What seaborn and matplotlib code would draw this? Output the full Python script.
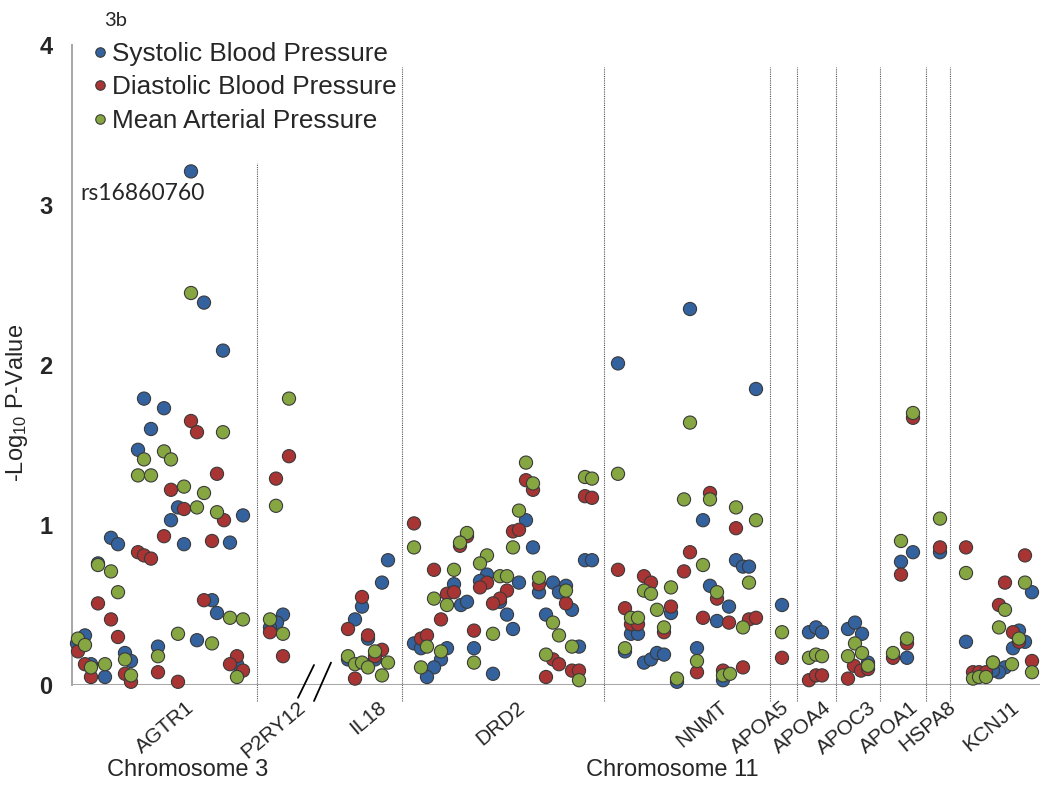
### Imports
import numpy as np
import pandas as pd
import matplotlib
matplotlib.use('Agg')
import matplotlib.pyplot as plt
import seaborn as sea

### Dados (posição no eixo e -log10 P)
# Systolic Blood Pressure
sbp_pos = [191, 204, 223, 144, 164, 151, 138, 178, 171, 243, 111, 118, 184, 230, 98, 212, 217, 85, 77, 197, 158, 125, 131, 91, 105, 237,  # AGTR1
           283, 277, 270,                                                   # P2RY12
           388, 382, 362, 355, 368, 375, 348,                               # IL18
           526, 533, 585, 592, 487, 480, 519, 539, 553, 566, 559, 572, 454, 461, 467, 500, 507, 546, 513, 414, 421, 447, 441, 474, 434, 427, 493, 579,  # DRD2
           690, 618, 756, 703, 736, 743, 749, 710, 729, 671, 717, 631, 638, 625, 644, 651, 657, 664, 697, 723, 677,  # NNMT
           782, 809, 816, 822, 848, 855, 862, 868,                          # APOA5 / APOA4 / APOC3
           913, 901, 907, 940,                                              # APOA1 / HSPA8
           966, 1032, 1019, 1025, 1013, 1005, 999, 993]                     # KCNJ1
sbp_logp = [3.21, 2.39, 2.09, 1.79, 1.73, 1.60, 1.47, 1.11, 1.03, 1.06, 0.92, 0.88, 0.88, 0.89, 0.76, 0.53, 0.45, 0.31, 0.26, 0.28, 0.24, 0.20, 0.15, 0.13, 0.05, 0.13,
            0.44, 0.39, 0.36,
            0.78, 0.64, 0.49, 0.41, 0.29, 0.16, 0.16,
            1.03, 0.86, 0.78, 0.78, 0.69, 0.65, 0.64, 0.58, 0.64, 0.62, 0.58, 0.47, 0.63, 0.50, 0.52, 0.52, 0.44, 0.44, 0.35, 0.26, 0.23, 0.23, 0.16, 0.23, 0.11, 0.05, 0.07, 0.24,
            2.35, 2.01, 1.85, 1.03, 0.78, 0.74, 0.74, 0.62, 0.49, 0.45, 0.40, 0.32, 0.32, 0.21, 0.14, 0.16, 0.20, 0.19, 0.23, 0.03, 0.02,
            0.50, 0.33, 0.36, 0.33, 0.35, 0.39, 0.32, 0.14,
            0.83, 0.77, 0.17, 0.83,
            0.27, 0.58, 0.34, 0.27, 0.23, 0.11, 0.08, 0.09]

# Diastolic Blood Pressure
dbp_pos = [191, 197, 217, 171, 184, 224, 164, 138, 144, 151, 212, 98, 111, 118, 204, 78, 85, 91, 125, 131, 158, 178, 237, 230, 243,
           289, 276, 270, 283,
           362, 348, 368, 382, 375, 355,
           526, 533, 585, 592, 414, 513, 519, 467, 460, 434, 487, 480, 539, 566, 447, 454, 507, 500, 493, 441, 474, 421, 427, 553, 559, 572, 579, 546,
           710, 736, 690, 618, 684, 644, 651, 717, 625, 631, 638, 671, 664, 703, 729, 749, 756, 697, 743, 723,
           782, 809, 816, 822, 854, 861, 868, 848,
           913, 901, 907, 893, 940,
           966, 1025, 1005, 999, 1013, 1019, 993, 1032, 973, 979, 986]
dbp_logp = [1.65, 1.58, 1.32, 1.22, 1.10, 1.03, 0.93, 0.83, 0.81, 0.79, 0.90, 0.51, 0.41, 0.30, 0.53, 0.21, 0.13, 0.05, 0.07, 0.02, 0.08, 0.02, 0.18, 0.13, 0.09,
            1.43, 1.29, 0.33, 0.18,
            0.55, 0.35, 0.31, 0.22, 0.18, 0.04,
            1.28, 1.22, 1.18, 1.17, 1.01, 0.96, 0.97, 0.93, 0.87, 0.72, 0.64, 0.61, 0.63, 0.51, 0.57, 0.58, 0.59, 0.54, 0.51, 0.41, 0.34, 0.29, 0.31, 0.16, 0.13, 0.09, 0.09, 0.05,
            1.20, 0.98, 0.83, 0.72, 0.71, 0.68, 0.64, 0.54, 0.48, 0.38, 0.38, 0.49, 0.33, 0.42, 0.39, 0.41, 0.42, 0.08, 0.11, 0.09,
            0.17, 0.03, 0.06, 0.06, 0.12, 0.09, 0.10, 0.04,
            1.67, 0.69, 0.26, 0.17, 0.86,
            0.86, 0.81, 0.64, 0.50, 0.33, 0.27, 0.14, 0.15, 0.08, 0.08, 0.08]

# Mean Arterial Pressure
map_pos = [191, 223, 144, 164, 171, 138, 151, 184, 204, 197, 217, 98, 111, 118, 230, 243, 78, 85, 178, 212, 158, 125, 91, 105, 131, 237,
           289, 276, 270, 283,
           375, 348, 355, 362, 368, 388, 382,
           526, 533, 585, 592, 414, 519, 513, 467, 460, 487, 480, 454, 500, 507, 539, 566, 434, 447, 553, 493, 559, 427, 441, 474, 421, 546, 572, 579,
           690, 618, 710, 684, 736, 756, 703, 749, 644, 651, 671, 717, 631, 638, 657, 664, 743, 625, 697, 723, 730, 677,
           782, 809, 816, 822, 855, 848, 862, 868,
           913, 901, 907, 893, 940,
           966, 1025, 1005, 999, 1019, 1012, 993, 1032, 973, 979, 986]
map_logp = [2.45, 1.58, 1.41, 1.46, 1.41, 1.31, 1.31, 1.24, 1.20, 1.11, 1.08, 0.75, 0.71, 0.58, 0.42, 0.41, 0.29, 0.25, 0.32, 0.26, 0.18, 0.16, 0.11, 0.13, 0.06, 0.05,
            1.79, 1.12, 0.41, 0.32,
            0.21, 0.18, 0.13, 0.14, 0.11, 0.14, 0.06,
            1.39, 1.26, 1.30, 1.29, 0.86, 1.09, 0.86, 0.95, 0.89, 0.81, 0.76, 0.72, 0.68, 0.68, 0.67, 0.59, 0.54, 0.50, 0.39, 0.32, 0.31, 0.24, 0.21, 0.14, 0.11, 0.19, 0.24, 0.03,
            1.64, 1.32, 1.16, 1.16, 1.11, 1.03, 0.75, 0.64, 0.59, 0.57, 0.61, 0.58, 0.42, 0.42, 0.47, 0.36, 0.36, 0.23, 0.15, 0.06, 0.07, 0.04,
            0.33, 0.17, 0.19, 0.18, 0.26, 0.18, 0.20, 0.12,
            1.70, 0.90, 0.29, 0.20, 1.04,
            0.70, 0.64, 0.47, 0.36, 0.29, 0.13, 0.14, 0.08, 0.04, 0.05, 0.05]

tracos = ['Systolic Blood Pressure', 'Diastolic Blood Pressure', 'Mean Arterial Pressure']
cores = ['#33629f', '#a83434', '#86a641']

# Genes: nome, posição do rótulo
genes = ['AGTR1', 'P2RY12', 'IL18', 'DRD2', 'NNMT', 'APOA5', 'APOA4', 'APOC3', 'APOA1', 'HSPA8', 'KCNJ1']
genes_x = [186, 297, 378, 516, 719, 781, 823, 868, 910, 947, 1010]

# Separadores entre genes
separadores = [257, 402, 604, 770, 797, 836, 880, 926, 950]
separadores_topo = [3.26, 3.86, 3.86, 3.86, 3.86, 3.86, 3.86, 3.86, 3.86]

cromossomos = ['Chromosome 3', 'Chromosome 11']
cromossomos_x = [188, 672]

### DataFrame longo
df = pd.DataFrame({
    'pos': sbp_pos + dbp_pos + map_pos,
    'logp': sbp_logp + dbp_logp + map_logp,
    'trait': [tracos[0]] * len(sbp_pos) + [tracos[1]] * len(dbp_pos) + [tracos[2]] * len(map_pos),
})

### Plot
sea.set_style('white')
plt.rcParams['font.family'] = ['Liberation Sans', 'DejaVu Sans']
plt.rcParams['mathtext.default'] = 'regular'

fig = plt.figure(figsize=(10.5, 7.85), dpi=100)
ax = fig.add_axes([72 / 1050, 100 / 785, 968 / 1050, 640 / 785])

# separadores pontilhados
ax.vlines(separadores, -0.1, separadores_topo, colors='#555555', linestyles=(0, (1, 1)),
          linewidth=0.8, clip_on=False, zorder=1)

sea.scatterplot(data=df, x='pos', y='logp', hue='trait', hue_order=tracos, palette=cores,
                s=90, edgecolor='#3a3a3a', linewidth=0.8, ax=ax, zorder=3, clip_on=False)

# linha base
ax.axhline(0, color='#a6a6a6', linewidth=2.2, zorder=2)

ax.set_xlim(72, 1040)
ax.set_ylim(0, 4)
ax.set_xticks([])
ax.set_yticks([0, 1, 2, 3, 4])
ax.set_xlabel('')
ax.set_ylabel('-Log$_{10}$ P-Value', fontsize=17)
ax.yaxis.set_label_coords(-0.043, 0.44)
ax.tick_params(axis='y', direction='out', length=7, width=1.2, color='#a6a6a6',
               pad=7, labelsize=17)
for t in ax.get_yticklabels():
    t.set_fontweight('bold')

for lado in ['top', 'right', 'bottom']:
    ax.spines[lado].set_visible(False)
ax.spines['left'].set_color('#a6a6a6')
ax.spines['left'].set_linewidth(1.4)

# legenda
handles, labels = ax.get_legend_handles_labels()
ax.legend(handles, labels, loc='upper left', bbox_to_anchor=(92 / 1050, 1 - 42 / 785),
          bbox_transform=fig.transFigure, frameon=False, fontsize=18.8, borderpad=0,
          borderaxespad=0, handlelength=0.6, handletextpad=0.17, labelspacing=0.36,
          markerscale=0.72)

# rótulos dos genes
for nome, gx in zip(genes, genes_x):
    ax.text(gx, -0.08, nome, rotation=40, ha='right', va='top', rotation_mode='anchor',
            fontsize=15, clip_on=False)

# quebra do eixo entre P2RY12 e IL18
ax.plot([298, 314], [-0.08, 0.125], color='black', linewidth=1.3, clip_on=False)
ax.plot([314, 331], [-0.1, 0.14], color='black', linewidth=1.3, clip_on=False)

for nome, cx in zip(cromossomos, cromossomos_x):
    ax.text(cx, -0.53, nome, ha='center', va='center', fontsize=17, clip_on=False)

# anotações
ax.text(80, 3.075, 'rs16860760', ha='left', va='center', fontsize=16.5,
        family=['Lato', 'DejaVu Sans'])
ax.text(104, 4.15, '3b', ha='left', va='center', fontsize=14.5,
        family=['Lato', 'DejaVu Sans'], clip_on=False)

plt.savefig('out.png', dpi=100)
